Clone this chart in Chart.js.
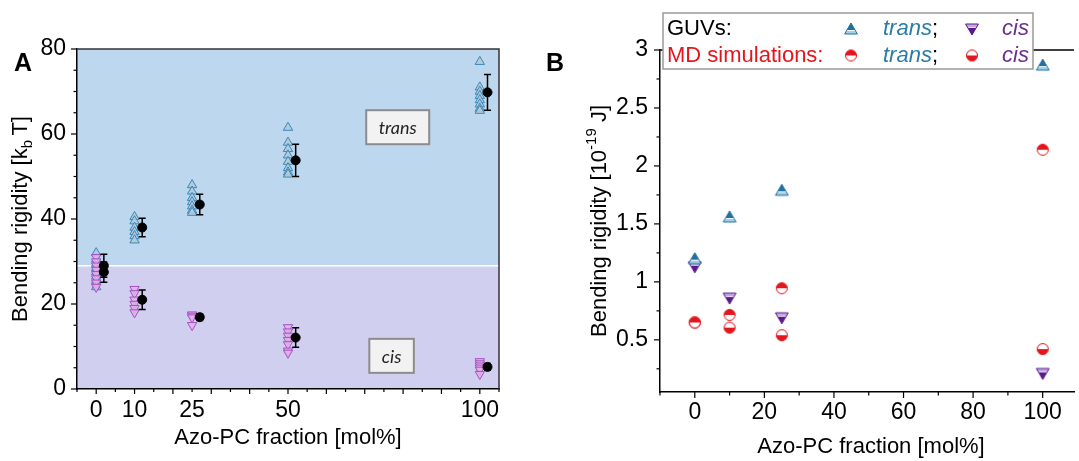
<!DOCTYPE html>
<html>
<head>
<meta charset="utf-8">
<title>Bending rigidity vs Azo-PC fraction</title>
<script src="https://cdn.jsdelivr.net/npm/chart.js@4"></script>
<style>
  html, body { margin: 0; padding: 0; background: #fff; }
  #wrap { position: relative; width: 1079px; height: 461px; overflow: hidden; }
  canvas { position: absolute; top: 0; }
  #chartA { left: 0; }
  #chartB { left: 540px; }
</style>
</head>
<body>
<div id="wrap">
  <canvas id="chartA" width="540" height="461"></canvas>
  <canvas id="chartB" width="539" height="461"></canvas>
</div>
<script>
const FONT = 'Arial, "Liberation Sans", Helvetica, sans-serif';
Chart.defaults.font.family = FONT;
Chart.defaults.color = '#000';
Chart.defaults.animation = false;

// panel A: single vesicles (triangles) and mean +- sd (black dots)
const fracA = [0, 10, 25, 50, 100];
const transA = [
  [32, 30.5, 29.5, 28.5, 27.5, 26.5, 25.5, 24],
  [40.5, 39.5, 38, 37, 36, 35],
  [48, 46.5, 45, 44, 43, 42, 41.5],
  [61.5, 58, 56.5, 55, 53.5, 52, 51, 50.5],
  [77, 71, 70, 69, 68, 67, 66, 65.5]
];
const cisA = [
  [31, 30, 29, 28, 27, 26, 25, 24],
  [23.5, 22.5, 21, 20, 19, 18],
  [17.5, 17.2, 16.8, 15],
  [14.5, 13.5, 12.5, 11.5, 10.5, 9, 8.5],
  [6.5, 6, 5.5, 5, 4.5, 3.5]
];
const transMean = [29, 38, 43.4, 53.8, 69.8];
const transErr = [2.7, 2.2, 2.4, 3.8, 4.2];
const cisMean = [27.5, 21, 16.9, 12.1, 5.2];
const cisErr = [2.4, 2.3, 0.8, 2.3, 0.8];
const xLabelsA = [0, 10, 25, 50, 100];
const yLabelsA = [0, 20, 40, 60, 80];
const bandSplit = 29;  // boundary of the trans / cis shading
const meanShift = 2;   // means sit a little right of the raw points

// panel B: GUVs vs MD simulations
const fracB = [0, 10, 25, 100];
const guvTrans = [1.2, 1.56, 1.79, 2.87];
const guvCis = [1.13, 0.86, 0.69, 0.21];
const mdTrans = [0.65, 0.715, 0.945, 2.14];
const mdCis = [0.65, 0.605, 0.54, 0.42];
const xLabelsB = [0, 20, 40, 60, 80, 100];
const yLabelsB = [0.5, 1, 1.5, 2, 2.5, 3];

// tick marks (major / minor) drawn outside the axis
function tickMarks(ctx, scale, step, majorStep, majorLen, minorLen) {
  const horiz = scale.isHorizontal();
  ctx.save();
  ctx.strokeStyle = '#000';
  ctx.lineWidth = 1.2;
  for (let k = Math.ceil(scale.min / step - 1e-9); k * step <= scale.max + 1e-9; k++) {
    const v = k * step;
    const r = v / majorStep;
    const len = Math.abs(r - Math.round(r)) < 1e-6 ? majorLen : minorLen;
    const p = scale.getPixelForValue(v);
    ctx.beginPath();
    if (horiz) { ctx.moveTo(p, scale.top); ctx.lineTo(p, scale.top + len); }
    else { ctx.moveTo(scale.right, p); ctx.lineTo(scale.right - len, p); }
    ctx.stroke();
  }
  ctx.restore();
}

// rotated axis title with sub/superscript parts
function vTitle(ctx, parts, cx, cy, size) {
  ctx.save();
  ctx.translate(cx, cy);
  ctx.rotate(-Math.PI / 2);
  ctx.textBaseline = 'middle';
  ctx.textAlign = 'left';
  ctx.fillStyle = '#000';
  const small = Math.round(size * 0.68);
  const widths = parts.map(([t, k]) => {
    ctx.font = (k ? small : size) + 'px ' + FONT;
    return ctx.measureText(t).width;
  });
  let x = -widths.reduce((a, b) => a + b, 0) / 2;
  parts.forEach(([t, k], i) => {
    ctx.font = (k ? small : size) + 'px ' + FONT;
    const dy = k === 'sub' ? size * 0.3 : k === 'sup' ? -size * 0.35 : 0;
    ctx.fillText(t, x, dy);
    x += widths[i];
  });
  ctx.restore();
}

function hTitle(ctx, text, cx, cy, size) {
  ctx.save();
  ctx.font = size + 'px ' + FONT;
  ctx.fillStyle = '#000';
  ctx.textAlign = 'center';
  ctx.textBaseline = 'middle';
  ctx.fillText(text, cx, cy);
  ctx.restore();
}

function panelLetter(ctx, text, cx, cy) {
  ctx.save();
  ctx.font = 'bold 25px ' + FONT;
  ctx.fillStyle = '#000';
  ctx.textAlign = 'center';
  ctx.textBaseline = 'middle';
  ctx.fillText(text, cx, cy);
  ctx.restore();
}

// two-tone marker images for panel B
function marker(path, split, topColor, bottomColor, edge, gap) {
  const c = document.createElement('canvas');
  c.width = 16; c.height = 16;
  const g = c.getContext('2d');
  path(g);
  g.save();
  g.clip();
  g.fillStyle = bottomColor; g.fillRect(0, 0, 16, 16);
  g.fillStyle = topColor; g.fillRect(0, 0, 16, split);
  if (gap) { g.fillStyle = 'rgba(255,255,255,0.85)'; g.fillRect(0, split, 16, 1); }
  g.restore();
  path(g);
  g.strokeStyle = edge;
  g.lineWidth = 1;
  g.stroke();
  return c;
}
const upPath = g => { g.beginPath(); g.moveTo(8, 2); g.lineTo(14.4, 13); g.lineTo(1.6, 13); g.closePath(); };
const downPath = g => { g.beginPath(); g.moveTo(1.6, 3); g.lineTo(14.4, 3); g.lineTo(8, 14); g.closePath(); };
const circPath = g => { g.beginPath(); g.arc(8, 8, 5.5, 0, Math.PI * 2); };
const RED = '#e3161d';
const triUp = marker(upPath, 9, '#21709f', '#a6cfe6', '#21709f', true);
const triDown = marker(downPath, 6, '#c4a8e2', '#5b1a8c', '#5b1a8c', true);
const circTop = marker(circPath, 8, RED, '#fff', RED, false);
const circBottom = marker(circPath, 8, '#fff', RED, RED, false);

// ---------- panel A ----------
const rawPoints = sets => sets.flatMap((list, i) => list.map(v => ({ x: fracA[i], y: v })));
const meanPoints = means => means.map((m, i) => ({ x: fracA[i] + meanShift, y: m }));
const phaseBoxes = [{ text: 'trans', x: 78.6, y: 61.6 }, { text: 'cis', x: 77, y: 7.8 }];

const panelA = {
  id: 'panelA',
  beforeDraw(chart) {
    const { ctx, chartArea: a, scales: { y } } = chart;
    const ys = y.getPixelForValue(bandSplit);
    ctx.save();
    ctx.fillStyle = '#bdd7ee';
    ctx.fillRect(a.left, a.top, a.width, ys - a.top);
    ctx.fillStyle = '#d1cfef';
    ctx.fillRect(a.left, ys, a.width, a.bottom - ys);
    ctx.strokeStyle = '#fff';
    ctx.lineWidth = 1.5;
    ctx.beginPath(); ctx.moveTo(a.left, ys); ctx.lineTo(a.right, ys); ctx.stroke();
    ctx.restore();
  },
  afterDatasetsDraw(chart) {
    const { ctx, scales: { x, y } } = chart;
    ctx.save();
    ctx.strokeStyle = '#000';
    ctx.lineWidth = 1.5;
    [[transMean, transErr], [cisMean, cisErr]].forEach(([m, e]) => {
      m.forEach((v, i) => {
        const px = x.getPixelForValue(fracA[i] + meanShift);
        const top = y.getPixelForValue(v + e[i]);
        const bot = y.getPixelForValue(v - e[i]);
        ctx.beginPath();
        ctx.moveTo(px, top); ctx.lineTo(px, bot);
        ctx.moveTo(px - 3.5, top); ctx.lineTo(px + 3.5, top);
        ctx.moveTo(px - 3.5, bot); ctx.lineTo(px + 3.5, bot);
        ctx.stroke();
      });
    });
    ctx.font = 'italic 18px Lato, "Open Sans", sans-serif';
    ctx.textAlign = 'center';
    ctx.textBaseline = 'middle';
    phaseBoxes.forEach(b => {
      const cx = x.getPixelForValue(b.x), cy = y.getPixelForValue(b.y);
      const w = ctx.measureText(b.text).width + 25, h = 34;
      ctx.fillStyle = '#f2f2f2';
      ctx.fillRect(cx - w / 2, cy - h / 2, w, h);
      ctx.strokeStyle = '#8c8c8c';
      ctx.lineWidth = 2;
      ctx.strokeRect(cx - w / 2, cy - h / 2, w, h);
      ctx.fillStyle = '#222';
      ctx.fillText(b.text, cx, cy + 1);
    });
    ctx.restore();
  },
  afterDraw(chart) {
    const { ctx, chartArea: a, scales: { x, y } } = chart;
    ctx.save();
    ctx.strokeStyle = '#333';
    ctx.lineWidth = 1.5;
    ctx.beginPath();
    ctx.moveTo(a.left, a.top); ctx.lineTo(a.right, a.top); ctx.lineTo(a.right, a.bottom);
    ctx.stroke();
    ctx.restore();
    tickMarks(ctx, x, 5, 10, 5, 3);
    tickMarks(ctx, y, 5, 20, 6, 3.5);
    vTitle(ctx, [['Bending rigidity [k', ''], ['b', 'sub'], ['\u2009T]', '']], 21, (a.top + a.bottom) / 2, 22);
    hTitle(ctx, 'Azo-PC fraction [mol%]', (a.left + a.right) / 2, 438, 22);
    panelLetter(ctx, 'A', 23, 64);
  }
};

new Chart(document.getElementById('chartA'), {
  type: 'scatter',
  data: {
    datasets: [
      { label: 'trans mean', data: meanPoints(transMean), pointRadius: 4.5, backgroundColor: '#000', borderColor: '#000', order: 0 },
      { label: 'cis mean', data: meanPoints(cisMean), pointRadius: 4.5, backgroundColor: '#000', borderColor: '#000', order: 0 },
      { label: 'cis', data: rawPoints(cisA), pointStyle: 'triangle', pointRotation: 180, pointRadius: 5.4,
        backgroundColor: 'rgba(226,178,232,0.85)', borderColor: '#a451c2', borderWidth: 1, order: 1 },
      { label: 'trans', data: rawPoints(transA), pointStyle: 'triangle', pointRadius: 5.4,
        backgroundColor: 'rgba(178,202,216,0.85)', borderColor: '#3c87b8', borderWidth: 1, order: 2 }
    ]
  },
  options: {
    responsive: false,
    layout: { padding: { top: 49, right: 41, left: 0, bottom: 0 } },
    plugins: { legend: { display: false }, tooltip: { enabled: false } },
    scales: {
      x: {
        type: 'linear', min: -5, max: 105,
        afterBuildTicks: s => { s.ticks = xLabelsA.map(v => ({ value: v })); },
        afterFit: s => { s.height = 72; },
        ticks: { autoSkip: false, maxRotation: 0, padding: 8, font: { size: 23 }, callback: v => String(v) },
        grid: { display: true, drawOnChartArea: false, drawTicks: false },
        border: { color: '#000', width: 1.5 }
      },
      y: {
        min: 0, max: 80,
        afterBuildTicks: s => { s.ticks = yLabelsA.map(v => ({ value: v })); },
        afterFit: s => { s.width = 77; },
        ticks: { autoSkip: false, padding: 11, font: { size: 23 }, callback: v => String(v) },
        grid: { display: true, drawOnChartArea: false, drawTicks: false },
        border: { color: '#000', width: 1.5 }
      }
    }
  },
  plugins: [panelA]
});

// ---------- panel B ----------
const ptsB = vals => vals.map((v, i) => ({ x: fracB[i], y: v }));

const panelB = {
  id: 'panelB',
  afterDraw(chart) {
    const { ctx, chartArea: a, scales: { x, y } } = chart;
    ctx.save();
    ctx.strokeStyle = '#000';
    ctx.lineWidth = 1.5;
    ctx.beginPath(); ctx.moveTo(a.left, a.top); ctx.lineTo(a.right, a.top); ctx.stroke();
    ctx.restore();
    tickMarks(ctx, x, 10, 20, 6, 3.5);
    tickMarks(ctx, y, 0.25, 0.5, 6, 3.5);
    vTitle(ctx, [['Bending rigidity [10', ''], ['-19', 'sup'], [' J]', '']], 60, (a.top + a.bottom) / 2, 22);
    hTitle(ctx, 'Azo-PC fraction [mol%]', 331, 447, 22);
    panelLetter(ctx, 'B', 15, 64);

    // legend box
    ctx.save();
    ctx.fillStyle = '#fff';
    ctx.fillRect(123, 13, 370, 56);
    ctx.strokeStyle = '#999';
    ctx.lineWidth = 1.5;
    ctx.strokeRect(123, 13, 370, 56);
    ctx.textAlign = 'left';
    ctx.textBaseline = 'middle';
    const rows = [
      { name: 'GUVs:', color: '#000', y: 29, m1: triUp, m2: triDown },
      { name: 'MD simulations:', color: RED, y: 55.5, m1: circTop, m2: circBottom }
    ];
    rows.forEach(r => {
      ctx.font = '22px ' + FONT;
      ctx.fillStyle = r.color;
      ctx.fillText(r.name, 127, r.y);
      ctx.drawImage(r.m1, 311 - 8, r.y - 8);
      ctx.drawImage(r.m2, 432 - 8, r.y - 8);
      ctx.font = 'italic 22px ' + FONT;
      ctx.fillStyle = '#2a7ca6';
      ctx.fillText('trans', 343, r.y);
      const w = ctx.measureText('trans').width;
      ctx.font = '22px ' + FONT;
      ctx.fillStyle = '#000';
      ctx.fillText(';', 343 + w, r.y);
      ctx.font = 'italic 22px ' + FONT;
      ctx.fillStyle = '#6a2d91';
      ctx.fillText('cis', 462, r.y);
    });
    ctx.restore();
  }
};

new Chart(document.getElementById('chartB'), {
  type: 'scatter',
  data: {
    datasets: [
      { label: 'GUVs trans', data: ptsB(guvTrans), pointStyle: triUp, order: 0 },
      { label: 'GUVs cis', data: ptsB(guvCis), pointStyle: triDown, order: 1 },
      { label: 'MD trans', data: ptsB(mdTrans), pointStyle: circTop, order: 2 },
      { label: 'MD cis', data: ptsB(mdCis), pointStyle: circBottom, order: 3 }
    ]
  },
  options: {
    responsive: false,
    layout: { padding: { top: 50, right: 0, left: 0, bottom: 0 } },
    plugins: { legend: { display: false }, tooltip: { enabled: false } },
    scales: {
      x: {
        type: 'linear', min: -10, max: 109,
        afterBuildTicks: s => { s.ticks = xLabelsB.map(v => ({ value: v })); },
        afterFit: s => { s.height = 69; },
        ticks: { autoSkip: false, maxRotation: 0, padding: 7, font: { size: 23 }, callback: v => String(v) },
        grid: { display: true, drawOnChartArea: false, drawTicks: false },
        border: { color: '#000', width: 1.5 }
      },
      y: {
        min: 0.05, max: 3,
        afterBuildTicks: s => { s.ticks = yLabelsB.map(v => ({ value: v })); },
        afterFit: s => { s.width = 120; },
        ticks: { autoSkip: false, padding: 12, font: { size: 23 }, callback: v => String(v) },
        grid: { display: true, drawOnChartArea: false, drawTicks: false },
        border: { color: '#000', width: 1.5 }
      }
    }
  },
  plugins: [panelB]
});
</script>
</body>
</html>
